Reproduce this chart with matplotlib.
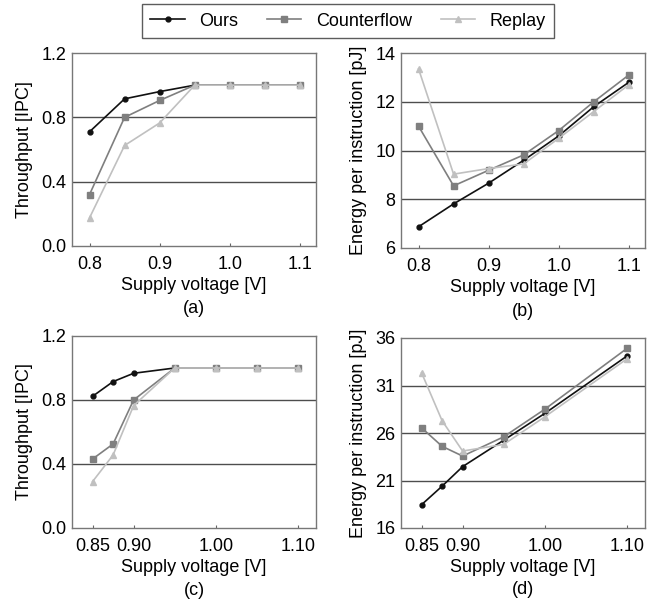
import matplotlib
matplotlib.use("Agg")
import matplotlib.pyplot as plt

plt.rcParams['font.family'] = ['Liberation Sans', 'DejaVu Sans']
plt.rcParams['font.size'] = 13

series = ["Ours", "Counterflow", "Replay"]

# top row (a), (b)
v_top = [0.80, 0.85, 0.90, 0.95, 1.00, 1.05, 1.10]
a_ours = [0.71, 0.915, 0.96, 1.0, 1.0, 1.0, 1.0]
a_cf = [0.32, 0.80, 0.905, 1.0, 1.0, 1.0, 1.0]
a_rp = [0.175, 0.625, 0.765, 1.0, 1.0, 1.0, 1.0]
b_ours = [6.87, 7.81, 8.66, 9.6, 10.6, 11.8, 12.8]
b_cf = [11.0, 8.55, 9.19, 9.82, 10.82, 12.0, 13.1]
b_rp = [13.35, 9.03, 9.26, 9.45, 10.5, 11.6, 12.7]

# bottom row (c), (d)
v_c = [0.85, 0.875, 0.90, 0.95, 1.00, 1.05, 1.10]
c_ours = [0.823, 0.915, 0.967, 1.0, 1.0, 1.0, 1.0]
c_cf = [0.431, 0.525, 0.80, 1.0, 1.0, 1.0, 1.0]
c_rp = [0.29, 0.456, 0.765, 1.0, 1.0, 1.0, 1.0]
v_d = [0.85, 0.875, 0.90, 0.95, 1.00, 1.10]
d_ours = [18.45, 20.4, 22.46, 25.24, 28.06, 34.1]
d_cf = [26.55, 24.6, 23.57, 25.6, 28.5, 34.9]
d_rp = [32.35, 27.3, 24.1, 24.8, 27.7, 33.8]

xt_top = [0.8, 0.9, 1.0, 1.1]
xt_bot = [0.85, 0.90, 1.00, 1.10]
yt_ipc = [0.0, 0.4, 0.8, 1.2]
yt_b = [6, 8, 10, 12, 14]
yt_d = [16, 21, 26, 31, 36]

styles = [
    dict(color='#111111', marker='o', markersize=3.5, lw=1.2),
    dict(color='#7f7f7f', marker='s', markersize=5, lw=1.2),
    dict(color='#c0c0c0', marker='^', markersize=4, lw=1.2),
]

W, H = 658, 600
fig = plt.figure(figsize=(W / 100, H / 100), dpi=100)


def make_ax(left, top, right, bottom):
    return fig.add_axes([left / W, 1 - bottom / H, (right - left) / W, (bottom - top) / H])


def setup(ax, x, ys, xticks, xfmt, yticks, yfmt, xlim, ylabel, tag):
    for y, st, name in zip(ys, styles, series):
        ax.plot(x, y, label=name, zorder=3, **st)
    ax.set_xlim(*xlim)
    ax.set_ylim(yticks[0], yticks[-1])
    ax.set_xticks(xticks)
    ax.set_xticklabels([xfmt % t for t in xticks])
    ax.set_yticks(yticks)
    ax.set_yticklabels([yfmt % t for t in yticks])
    ax.tick_params(axis='x', direction='in', length=2, pad=7, color='#666666')
    ax.tick_params(axis='y', length=0, pad=4)
    # horizontal lines at the inner y ticks
    for t in yticks[1:-1]:
        ax.axhline(t, color='#4d4d4d', lw=1.0, zorder=1)
    for s in ax.spines.values():
        s.set_color('#777777')
        s.set_linewidth(1.0)
    ax.set_xlabel("Supply voltage [V]", labelpad=3)
    ax.set_ylabel(ylabel, labelpad=6)
    ax.text(0.5, -0.325, tag, transform=ax.transAxes, ha='center', va='center')


ax_a = make_ax(72, 53, 316, 246)
setup(ax_a, v_top, [a_ours, a_cf, a_rp], xt_top, "%.1f", yt_ipc, "%.1f",
      (0.775, 1.123), "Throughput [IPC]", "(a)")

ax_b = make_ax(401, 53, 645, 248)
setup(ax_b, v_top, [b_ours, b_cf, b_rp], xt_top, "%.1f", yt_b, "%d",
      (0.775, 1.123), "Energy per instruction [pJ]", "(b)")

ax_c = make_ax(72, 336, 316, 528)
setup(ax_c, v_c, [c_ours, c_cf, c_rp], xt_bot, "%.2f", yt_ipc, "%.1f",
      (0.825, 1.122), "Throughput [IPC]", "(c)")

ax_d = make_ax(401, 338, 645, 528)
setup(ax_d, v_d, [d_ours, d_cf, d_rp], xt_bot, "%.2f", yt_d, "%d",
      (0.825, 1.122), "Energy per instruction [pJ]", "(d)")

handles, labels = ax_a.get_legend_handles_labels()
leg = fig.legend(handles, labels, loc='center', bbox_to_anchor=(348 / W, 1 - 21 / H),
                 ncol=3, frameon=True, fancybox=False, handlelength=1.9,
                 columnspacing=1.6, handletextpad=0.8, borderpad=0.45)
leg.get_frame().set_edgecolor('#333333')
leg.get_frame().set_linewidth(1.0)

fig.savefig("out.png", dpi=100)
